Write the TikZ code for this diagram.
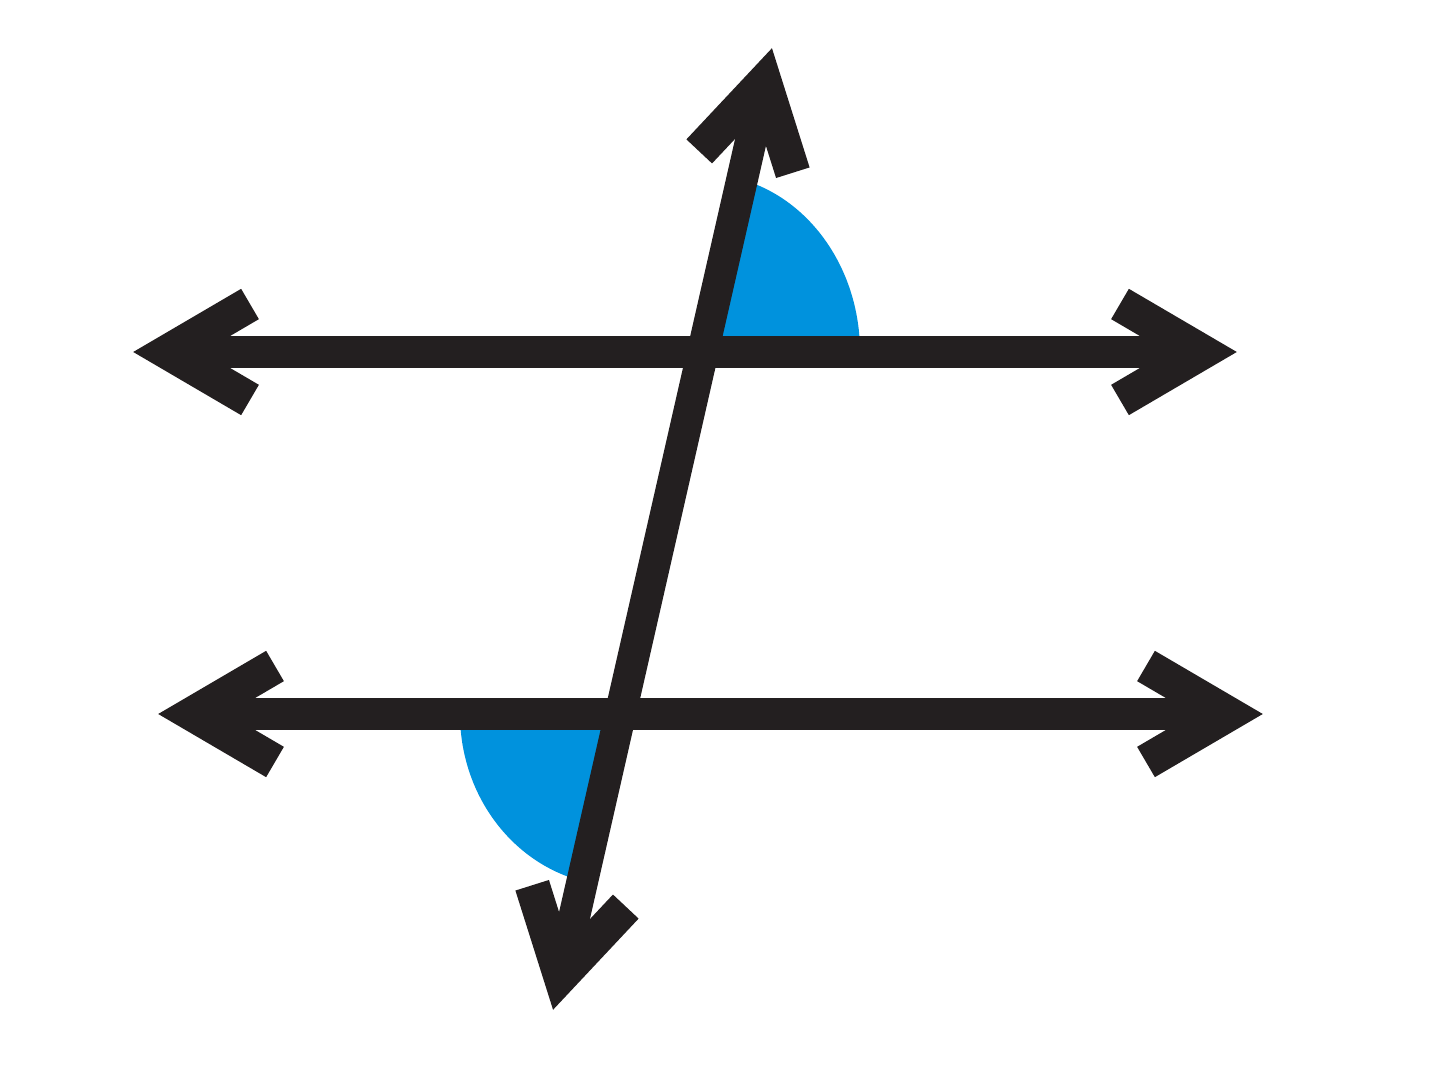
\documentclass[tikz,border=0pt]{standalone}
\usetikzlibrary{calc}
\definecolor{ink}{RGB}{35,31,32}
\definecolor{angblue}{RGB}{0,146,221}
\begin{document}
\begin{tikzpicture}
\useasboundingbox (0,0) rectangle (14.40,10.68);
\tikzset{
  ray/.style={draw=ink, line width=9pt, line cap=butt},
  chev/.pic={\draw[draw=ink, line width=10pt, line join=miter, miter limit=10, line cap=butt]
      (-1.17,0.48) -- (-0.35,0) -- (-1.17,-0.48);},
  sector/.style={fill=angblue, draw=none}
}
% points
\coordinate (A1) at (1.33,7.16);
\coordinate (A2) at (12.37,7.16);
\coordinate (B1) at (1.58,3.54);
\coordinate (B2) at (12.63,3.54);
\coordinate (T1) at (7.72,10.20);
\coordinate (T2) at (5.53,0.58);
\coordinate (P) at (7.03,7.16);
\coordinate (Q) at (6.20,3.54);
% angle sectors
\fill[sector] (P) -- ++(1.57,0) arc[start angle=0, end angle=75.8, x radius=1.57, y radius=1.78] -- cycle;
\fill[sector] (Q) -- ++(-1.60,0) arc[start angle=180, end angle=256.4, x radius=1.60, y radius=1.72] -- cycle;
% lines
\draw[ray, shorten <=0.5cm, shorten >=0.5cm] (A1) -- (A2);
\draw[ray, shorten <=0.5cm, shorten >=0.5cm] (B1) -- (B2);
\draw[ray, shorten <=0.5cm, shorten >=0.5cm] (T1) -- (T2);
% arrowheads
\pic[rotate=180] at (A1) {chev};
\pic at (A2) {chev};
\pic[rotate=180] at (B1) {chev};
\pic at (B2) {chev};
\pic[rotate=77.17] at (T1) {chev};
\pic[rotate=257.17] at (T2) {chev};
\end{tikzpicture}
\end{document}
